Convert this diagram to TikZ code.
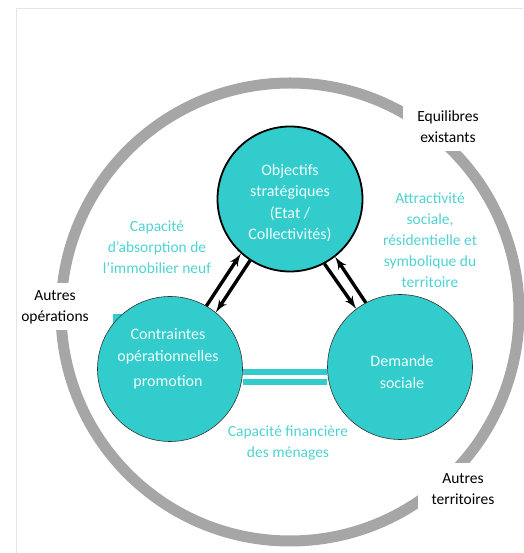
\documentclass[tikz,border=0pt]{standalone}
\usepackage{fontspec}
\setmainfont{Carlito}
\usetikzlibrary{shapes,arrows}
\definecolor{ringgray}{RGB}{166,166,166}
\definecolor{cyanfill}{RGB}{51,204,204}
\definecolor{cyantext}{RGB}{80,210,210}
\definecolor{circletext}{RGB}{238,255,255}

\begin{document}
\begin{tikzpicture}[x=1pt, y=1pt,
    circle_top/.style ={circle, draw=black, line width=1.8pt, fill=cyanfill,
      minimum size=145pt, inner sep=0pt},
    circle_low/.style ={circle, draw=black!80, line width=0.6pt, fill=cyanfill,
      minimum size=145pt, inner sep=0pt},
    text_in/.style ={text=circletext, align=center, inner sep=0pt,
      font=\fontsize{16}{21.5}\selectfont},
    text_cyan/.style ={text=cyantext, align=center, inner sep=0pt,
      font=\fontsize{15.5}{21}\selectfont},
    block_white/.style ={rectangle, draw=none, fill=white, align=center,
      inner sep=0pt, font=\fontsize{15.5}{21}\selectfont},
    bar/.style ={draw=cyanfill, line width=6pt, double=white, double distance=4pt},
    line/.style ={draw, line width=3.4pt, -latex', shorten >=0pt}]
    \useasboundingbox (0,0) rectangle (523,553);
    % page frame
    \draw[black!10, line width=0.8pt] (16,0) -- (16,545) -- (523,545);
    % outer ring and its three labels
    \draw[ringgray, line width=11pt] (290,241) circle (229pt);
    \node [block_white, minimum width=90pt, minimum height=49pt] (equil) at (448,426)
      {Equilibres\\existants};
    \node [block_white, minimum width=76pt, minimum height=47pt] (autop) at (55,246)
      {Autres\\opérations};
    \node [block_white, minimum width=90pt, minimum height=52pt] (autter) at (463,64)
      {Autres\\territoires};
    % the three poles
    \fill[cyanfill] (113,225) rectangle (123,239);
    \node [circle_top] (obj) at (290,354) {};
    \node [circle_low] (cont) at (170,184) {};
    \node [circle_low] (dem) at (400,186) {};
    \node [text_in] (objtxt) at (290,350) {Objectifs\\stratégiques\\(Etat /\\Collectivités)};
    \node [text_in] (conttxt) at (168,194) {Contraintes\\opérationnelles\\[4pt]promotion};
    \node [text_in] (demtxt) at (402,181) {Demande\\sociale};
    % links between poles
    \path[bar] ([yshift=-8pt]cont.east) -- ([yshift=-10pt]dem.west);
    \begin{scope}[every path/.style=line]
      \path (cont.60) -- (obj.228);
      \path (obj.237) -- (cont.51);
      \path (obj.298) -- (dem.127);
      \path (dem.118) -- (obj.308);
    \end{scope}
    % link labels
    \node [text_cyan] (absorb) at (157,306) {Capacité\\d’absorption de\\l’immobilier neuf};
    \node [text_cyan] (attract) at (430,313) {Attractivité\\sociale,\\résidentielle et\\symbolique du\\territoire};
    \node [text_cyan] (finance) at (288,110) {Capacité financière\\des ménages};
\end{tikzpicture}
\end{document}
